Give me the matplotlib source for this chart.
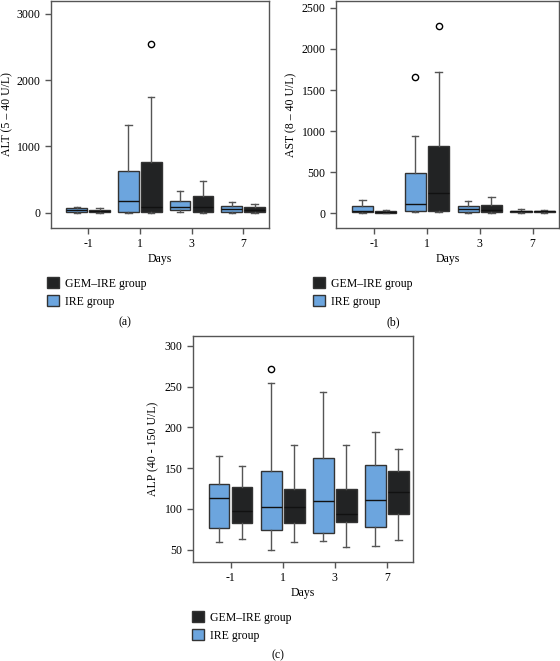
import numpy as np
import matplotlib
matplotlib.use("Agg")
import matplotlib.pyplot as plt
from matplotlib.patches import Patch

plt.rcParams['font.family'] = ['Liberation Serif', 'DejaVu Serif']

days = ["-1", "1", "3", "7"]
groups = ["IRE group", "GEM\u2013IRE group"]

# five-number summaries per day: [low whisker, Q1, median, Q3, high whisker]
alt_ire = [[0, 15, 40, 65, 90], [0, 10, 176, 632, 1325], [5, 40, 85, 180, 326], [0, 15, 50, 95, 155]]
alt_gem = [[0, 10, 25, 40, 65], [0, 10, 90, 763, 1741], [0, 10, 80, 245, 481], [0, 10, 40, 80, 125]]
alt_ire_out = [[], [], [], []]
alt_gem_out = [[], [2549], [], []]

ast_ire = [[0, 16, 28, 89, 162], [16, 32, 109, 493, 938], [0, 20, 53, 85, 150], [4, 12, 24, 32, 49]]
ast_gem = [[0, 8, 20, 32, 40], [16, 32, 243, 821, 1715], [8, 20, 45, 101, 198], [4, 12, 25, 32, 45]]
ast_ire_out = [[], [1658], [], []]
ast_gem_out = [[], [2273], [], []]

alp_ire = [[59, 77, 113, 131, 165], [50, 74, 102, 146, 254], [61, 70, 110, 162, 243], [55, 78, 111, 154, 194]]
alp_gem = [[63, 83, 97, 127, 153], [60, 83, 103, 124, 178], [53, 84, 94, 124, 179], [62, 94, 121, 147, 173]]
alp_ire_out = [[], [272], [], []]
alp_gem_out = [[], [], [], []]

BLUE = "#6ca5de"
DARK = "#222324"
EDGE = "#333333"
GREY = "#555555"


def make_stats(summ, outs):
    stats = []
    for s, o in zip(summ, outs):
        stats.append(dict(whislo=s[0], q1=s[1], med=s[2], q3=s[3], whishi=s[4], fliers=o))
    return stats


def panel(ax, ire, gem, ire_out, gem_out, ylabel, ylim, yticks):
    pos = np.arange(len(days))
    for st, off, col in [(make_stats(ire, ire_out), -0.22, BLUE), (make_stats(gem, gem_out), 0.22, DARK)]:
        ax.bxp(st, positions=pos + off, widths=0.4, capwidths=0.12, patch_artist=True,
               boxprops=dict(facecolor=col, edgecolor=EDGE, linewidth=1.0),
               medianprops=dict(color="#111111", linewidth=1.0),
               whiskerprops=dict(color=GREY, linewidth=1.0),
               capprops=dict(color=GREY, linewidth=1.0),
               flierprops=dict(marker='o', markerfacecolor='white', markeredgecolor='black',
                               markersize=4.5, markeredgewidth=1.0))
    ax.set_xlim(-0.72, 3.5)
    ax.set_ylim(*ylim)
    ax.set_xticks(pos)
    ax.set_xticklabels(days)
    ax.set_yticks(yticks)
    ax.set_ylabel(ylabel, fontsize=8.5)
    ax.set_xlabel("Days", fontsize=8.5, labelpad=2)
    ax.tick_params(labelsize=8.5, length=4, color=GREY, width=1.0, direction='out')
    for sp in ax.spines.values():
        sp.set_color(GREY)
        sp.set_linewidth(1.0)


fig = plt.figure(figsize=(5.6, 6.61), dpi=100)
H = 661.0
W = 560.0

axa = fig.add_axes([51 / W, 1 - 228 / H, 218 / W, 227 / H])
panel(axa, alt_ire, alt_gem, alt_ire_out, alt_gem_out, "ALT (5 \u2013 40 U/L)", (-230, 3193), [0, 1000, 2000, 3000])
axa.yaxis.set_label_coords(-0.172, 0.5)

axb = fig.add_axes([336 / W, 1 - 228 / H, 223 / W, 227 / H])
panel(axb, ast_ire, ast_gem, ast_ire_out, ast_gem_out, "AST (8 \u2013 40 U/L)", (-178, 2583), [0, 500, 1000, 1500, 2000, 2500])
axb.yaxis.set_label_coords(-0.172, 0.5)

axc = fig.add_axes([193 / W, 1 - 562 / H, 220 / W, 226 / H])
panel(axc, alp_ire, alp_gem, alp_ire_out, alp_gem_out, "ALP (40 - 150 U/L)", (35, 312), [50, 100, 150, 200, 250, 300])

handles = [Patch(facecolor=DARK, edgecolor=EDGE), Patch(facecolor=BLUE, edgecolor=EDGE)]
labels = [groups[1], groups[0]]
for x, y in [(47, 277), (313, 277), (192, 611)]:
    fig.legend(handles, labels, loc='upper left', bbox_to_anchor=(x / W, 1 - y / H),
               frameon=False, borderpad=0, borderaxespad=0, fontsize=8.5,
               handlelength=1.0, handleheight=1.1, handletextpad=0.5, labelspacing=0.45)

for x, y, t in [(125, 322, "(a)"), (393, 322, "(b)"), (278, 655, "(c)")]:
    fig.text(x / W, 1 - y / H, t, ha='center', va='center', fontsize=8.5)

fig.savefig("out.png", dpi=100)
